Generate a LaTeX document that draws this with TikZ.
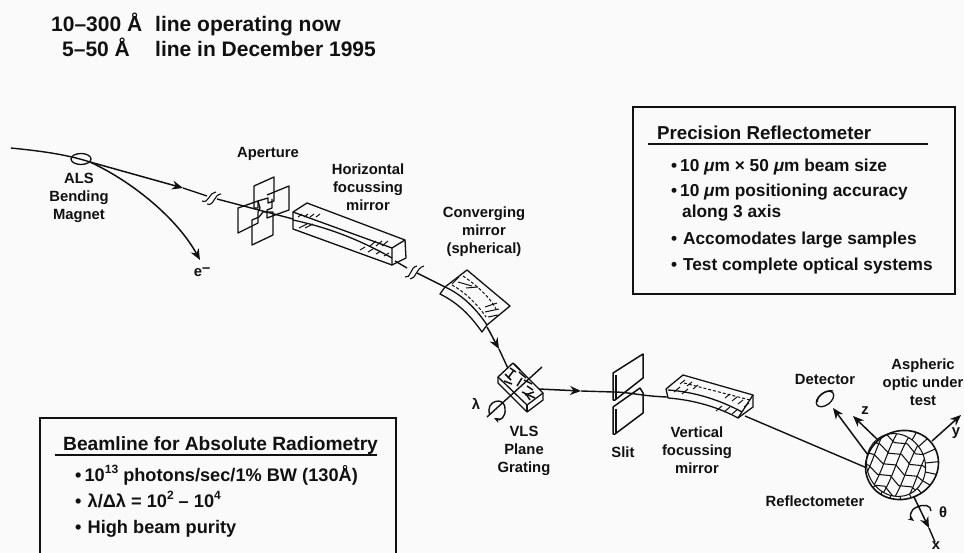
\documentclass[tikz,border=0pt]{standalone}
\usepackage{fontspec}
\setmainfont{Liberation Sans}
\usetikzlibrary{arrows.meta}
\definecolor{paper}{HTML}{FAFAFA}
\definecolor{ink}{HTML}{111111}
\newcommand{\supr}[1]{\raisebox{.42em}{\fontsize{12}{12}\selectfont #1}}
\tikzset{
  lbl/.style={font=\fontsize{14.8}{17}\selectfont\bfseries,text=ink,inner sep=0pt,align=center},
  hdr/.style={font=\fontsize{21}{24}\selectfont\bfseries,text=ink,inner sep=0pt,anchor=base west},
  ttl/.style={font=\fontsize{18.7}{22}\selectfont\bfseries,text=ink,inner sep=0pt,anchor=base west},
  bdy/.style={font=\fontsize{17.3}{20}\selectfont\bfseries,text=ink,inner sep=0pt,anchor=base west},
  bdyb/.style={font=\fontsize{18.2}{20}\selectfont\bfseries,text=ink,inner sep=0pt,anchor=base west},
  box/.style={draw=ink,line width=1.3pt},
  rulel/.style={draw=ink,line width=1.3pt},
  beam/.style={draw=ink,line width=1.4pt},
  arr/.style={draw=ink,line width=1.5pt,-{Stealth[length=11pt,width=9pt]}},
  part/.style={draw=ink,line width=1.3pt,line join=round},
  hatch/.style={draw=ink,line width=1pt},
  dash1/.style={draw=ink,line width=1pt,dash pattern=on 3pt off 2pt},
  mesh/.style={draw=ink,line width=1.05pt},
}
\begin{document}
\begin{tikzpicture}[x=1pt,y=-1pt]
\useasboundingbox (0,0) rectangle (964,553);
\fill[paper] (0,0) rectangle (964,553);

% header
\node[hdr] (h1a) at (51,32) {10–300 Å};
\node[hdr] (h1b) at (155,32) {line operating now};
\node[hdr] (h2a) at (62,57) {5–50 Å};
\node[hdr] (h2b) at (155,57) {line in December 1995};

% precision box
\draw[box] (633,107) rectangle (955,294);
\node[ttl] (pt) at (657,140) {Precision Reflectometer};
\coordinate (pr1) at (648,144); \coordinate (pr2) at (928,144);
\draw[rulel] (pr1) -- (pr2);
\node[bdy] (p1) at (671,172) {•\,10 \textit{μ}m × 50 \textit{μ}m beam size};
\node[bdy] (p2) at (671,197) {•\,10 \textit{μ}m positioning accuracy};
\node[bdy] (p2b) at (682,218) {along 3 axis};
\node[bdy] (p3) at (671,245) {•\,\,Accomodates large samples};
\node[bdy] (p4) at (671,271) {•\,\,Test complete optical systems};

% radiometry box
\draw[box] (40,553) -- (40,418) -- (396,418) -- (396,553);
\node[ttl,font=\fontsize{19.2}{22}\selectfont\bfseries] (rt) at (63,450) {Beamline for Absolute Radiometry};
\coordinate (rr1) at (55,455); \coordinate (rr2) at (377,455);
\draw[rulel] (rr1) -- (rr2);
\node[bdyb] (r1) at (75,481) {•\,10\supr{13} photons/sec/1\% BW (130Å)};
\node[bdyb] (r2) at (75,507) {•\,\,λ/Δλ = 10\supr{2} – 10\supr{4}};
\node[bdyb] (r3) at (75,533) {•\,\,High beam purity};

% labels
\node[lbl] at (79,198) (als) {ALS\\[1pt]Bending\\[1pt]Magnet};
\node[lbl] at (268,154) (ap) {Aperture};
\node[lbl] at (368,187) (hm) {Horizontal\\[1pt]focussing\\[1pt]mirror};
\node[lbl] at (484,232) (cm) {Converging\\[1pt]mirror\\[1pt](spherical)};
\node[lbl] at (524,451) (vls) {VLS\\[1pt]Plane\\[1pt]Grating};
\node[lbl] at (623,452) (sl) {Slit};
\node[lbl] at (697,450) (vm) {Vertical\\[1pt]focussing\\[1pt]mirror};
\node[lbl] at (825,379) (det) {Detector};
\node[lbl] at (923,382) (asp) {Aspheric\\[1pt]optic under\\[1pt]test};
\node[lbl] at (815,501) (rf) {Reflectometer};
\node[lbl] at (202,272) (el) {e\raisebox{.3em}{–}};
\node[lbl] at (476,404) (lam) {λ};
\node[lbl] at (943,512) (th) {θ};
\node[lbl] at (956,433) (ly) {y};
\node[lbl] at (865,411) (lz) {z};
\node[lbl] at (936,546) (lx) {x};

% beam coordinates
\coordinate (b0) at (11,148);
\coordinate (bm) at (90,162);
\coordinate (ba) at (183,188);
\coordinate (bk1) at (207,196);
\coordinate (bk2) at (217,199);
\coordinate (bap) at (293,219);
\coordinate (bh) at (395,261);
\coordinate (bk3) at (407,268);
\coordinate (bk4) at (417,273);
\coordinate (bc) at (445,287);
\coordinate (bc2) at (487,327);
\coordinate (bg0) at (499,349);
\coordinate (bg) at (517,388);
\coordinate (bs0) at (581,391);
\coordinate (bs) at (667,397);
\coordinate (bv) at (745,416);
\coordinate (bo) at (867,468);

% beam
\draw[beam] (b0) .. controls (40,151) and (65,154) .. (bm);
\draw[arr] (bm) -- (ba);
\draw[beam] (ba) -- (bk1);
\draw[beam] (bk2) -- (bap);
\draw[beam] (bh) -- (bk3);
\draw[beam] (bk4) -- (bc);
\draw[arr] (bc2) .. controls (490,332) and (494,340) .. (bg0);
\draw[beam] (bg0) -- (bg);
\draw[arr] (bg) -- (bs0);
\draw[beam] (bs0) -- (613,392);
\draw[beam] (613,392) .. controls (630,392) and (640,396) .. (bs);
\draw[beam] (bv) -- (bo);
\draw[arr] (bm) .. controls (135,183) and (178,220) .. (200,260);

% magnet
\draw[part] (81,159) ellipse [x radius=10pt,y radius=5.5pt];

% breaks
\draw[beam,line width=1.1pt] (202,201) .. controls (209,204) and (209,192) .. (216,192);
\draw[beam,line width=1.1pt] (207,204) .. controls (214,207) and (214,194) .. (221,194);
\draw[beam,line width=1.1pt] (405,277) .. controls (411,279) and (410,267) .. (417,266);
\draw[beam,line width=1.1pt] (410,279) .. controls (416,279) and (416,268) .. (424,266);

% aperture
\draw[part] (254,186) -- (274,177) -- (274,201) -- (268,203) -- (268,198) -- (258,201) -- (258,208) -- (254,208) -- cycle;
\draw[part] (267,195) -- (289,186) -- (289,210) -- (275,215) -- (267,218) -- (267,210) -- (272,208) -- (272,199);
\draw[part] (238,208) -- (258,201) -- (260,208) -- (258,212) -- (258,223) -- (238,233) -- cycle;
\draw[part] (252,220) -- (259,217) -- (263,212) -- (273,212) -- (273,235) -- (252,245) -- cycle;

% horizontal mirror
\draw[part] (293,212) -- (307,203) -- (405,240) -- (392,248) -- cycle;
\draw[part] (405,240) -- (406,258) -- (392,265) -- (392,248);
\draw[part] (293,212) -- (293,229) -- (392,265);
\draw[part] (293,220) .. controls (330,228) and (360,240) .. (392,258);
\foreach \x in {298,304,310,316}{\draw[hatch] (\x,217) -- (\x+4,214);}
\foreach \x in {299,305}{\draw[hatch] (\x,228) -- (\x+8,224);}
\foreach \x in {370,376,382}{\draw[hatch] (\x,246) -- (\x+6,241);}
\foreach \x in {360,368,376,384}{\draw[hatch] (\x,250+\x*0.25-90) -- (\x+5,247+\x*0.25-90);}

% converging mirror
\draw[part] (445,287) -- (467,270) -- (510,306) -- (487,325);
\draw[part] (445,287) -- (440,294) .. controls (458,303) and (470,315) .. (482,332) -- (487,325);
\draw[part] (445,287) .. controls (463,295) and (477,310) .. (487,325);
\draw[dash1] (452,285) .. controls (465,292) and (478,305) .. (486,317);
\draw[dash1] (463,276) .. controls (475,284) and (490,297) .. (496,309);
\draw[hatch] (452,284) -- (459,277); \draw[hatch] (458,282) -- (472,286);
\draw[hatch] (466,288) -- (478,287);
\draw[hatch] (485,307) -- (497,303); \draw[hatch] (485,312) -- (499,309); \draw[hatch] (488,317) -- (498,315);

% grating
\draw[part,fill=paper] (498,377) -- (513,363) -- (543,393) -- (527,405) -- cycle;
\draw[part] (498,377) -- (498,383) -- (527,412) -- (543,400) -- (543,393);
\draw[part] (527,405) -- (527,412);
\coordinate (gtop) at (542,367); \coordinate (gbot) at (487,417);
\draw[beam] (gtop) -- (gbot);
\foreach \a/\b/\c/\d in {505/374/511/380,510/368/516/372,519/372/526/378,504/381/512/384,524/380/532/384,525/395/534/392,522/392/535/398,517/386/522/378,508/378/514/370,527/386/533/390,530/400/526/394,514/364/520/370}
  {\draw[hatch,line width=1.5pt] (\a,\b) -- (\c,\d);}
\draw[beam,line width=1.4pt,-{Stealth[length=6pt,width=5pt]}] (490,415) .. controls (484,401) and (505,395) .. (505,409) .. controls (506,417) and (500,421) .. (494,418);

% slit
\draw[part,line width=1.5pt] (613,373) -- (643,354) -- (643,378) -- (615,400) -- (613,400) -- cycle;
\draw[part,line width=1.5pt] (616,375) -- (616,399);
\draw[part,line width=1.5pt] (613,407) -- (640,388) -- (643,393) -- (643,413) -- (615,434) -- (613,434) -- cycle;
\draw[part,line width=1.5pt] (616,409) -- (616,433);

% vertical mirror
\draw[part] (666,389) -- (683,375) -- (753,395) -- (738,418) .. controls (720,408) and (695,400) .. (668,398) -- cycle;
\draw[part] (753,395) -- (753,407) -- (738,418);
\draw[part] (668,390) .. controls (695,392) and (720,400) .. (742,412);
\draw[dash1] (684,383) -- (750,400);
\foreach \x/\y in {680/384,687/386,693/389,725/398,732/401,738/404,744/407}{\draw[hatch] (\x,\y) -- (\x+5,\y-4);}
\foreach \x/\y in {674/392,682/394,716/411,724/412,732/414}{\draw[hatch] (\x,\y) -- (\x+6,\y-5);}

% arrows at optic
\coordinate (oz) at (880,442); \coordinate (ozt) at (853,416);
\coordinate (od) at (868,455); \coordinate (odt) at (833,408);
\coordinate (oy) at (932,441); \coordinate (oyt) at (961,415);
\coordinate (ox) at (913,495); \coordinate (oxt) at (929,528); \coordinate (oxe) at (935,542);
\draw[arr] (oz) -- (ozt);
\draw[arr] (od) -- (odt);
\draw[arr] (oy) -- (oyt);
\draw[arr] (ox) -- (oxt);
\draw[beam] (oxt) -- (oxe);
\draw[beam,-{Stealth[length=6pt,width=5pt]}] (917,507) .. controls (909,510) and (910,518) .. (914,521);
\draw[beam] (917,507) .. controls (924,504) and (931,505) .. (931,511);

% detector
\draw[part,fill=paper] (825,399) ellipse [x radius=10pt,y radius=6pt,rotate=38];
\draw[part] (817.5,402) .. controls (816,397) and (826,389) .. (833,391);

% optic: rim rungs
\begin{scope}
\clip[rotate around={25:(902,465)}] (902,465) ellipse [x radius=37pt,y radius=34pt];
\fill[paper] (860,425) rectangle (945,505);
\begin{scope}[shift={(897,466)}]
  \foreach \a in {60,42,24,6,-12,-30,-48,-66,-84,-102,-120,-138}{
    \draw[mesh] (\a:24pt) -- (\a:46pt);}
\end{scope}
\end{scope}
% optic: mesh inside the inner outline
\begin{scope}
\clip[rotate around={25:(896,465)}] (896,465) ellipse [x radius=29pt,y radius=32pt];
\fill[paper] (860,425) rectangle (935,505);
\begin{scope}[shift={(896,465)},rotate=-28]
  \foreach \k in {-36,-24,-12,0,12,24,36}{
    \draw[mesh] (\k,-42) .. controls (\k-7,-15) and (\k+7,15) .. (\k,42);}
  \foreach \k in {-36,-24,-12,0,12,24,36}{
    \draw[mesh] (-42,\k+5) -- (-24,\k+1) -- (-12,\k+5) -- (0,\k) -- (12,\k+5) -- (24,\k) -- (42,\k+4);}
\end{scope}
\end{scope}
\draw[mesh,rotate around={25:(896,465)}] (896,465) ellipse [x radius=29pt,y radius=32pt];
\draw[part,line width=1.6pt,rotate around={25:(902,465)}] (902,465) ellipse [x radius=37pt,y radius=34pt];

\end{tikzpicture}
\end{document}
